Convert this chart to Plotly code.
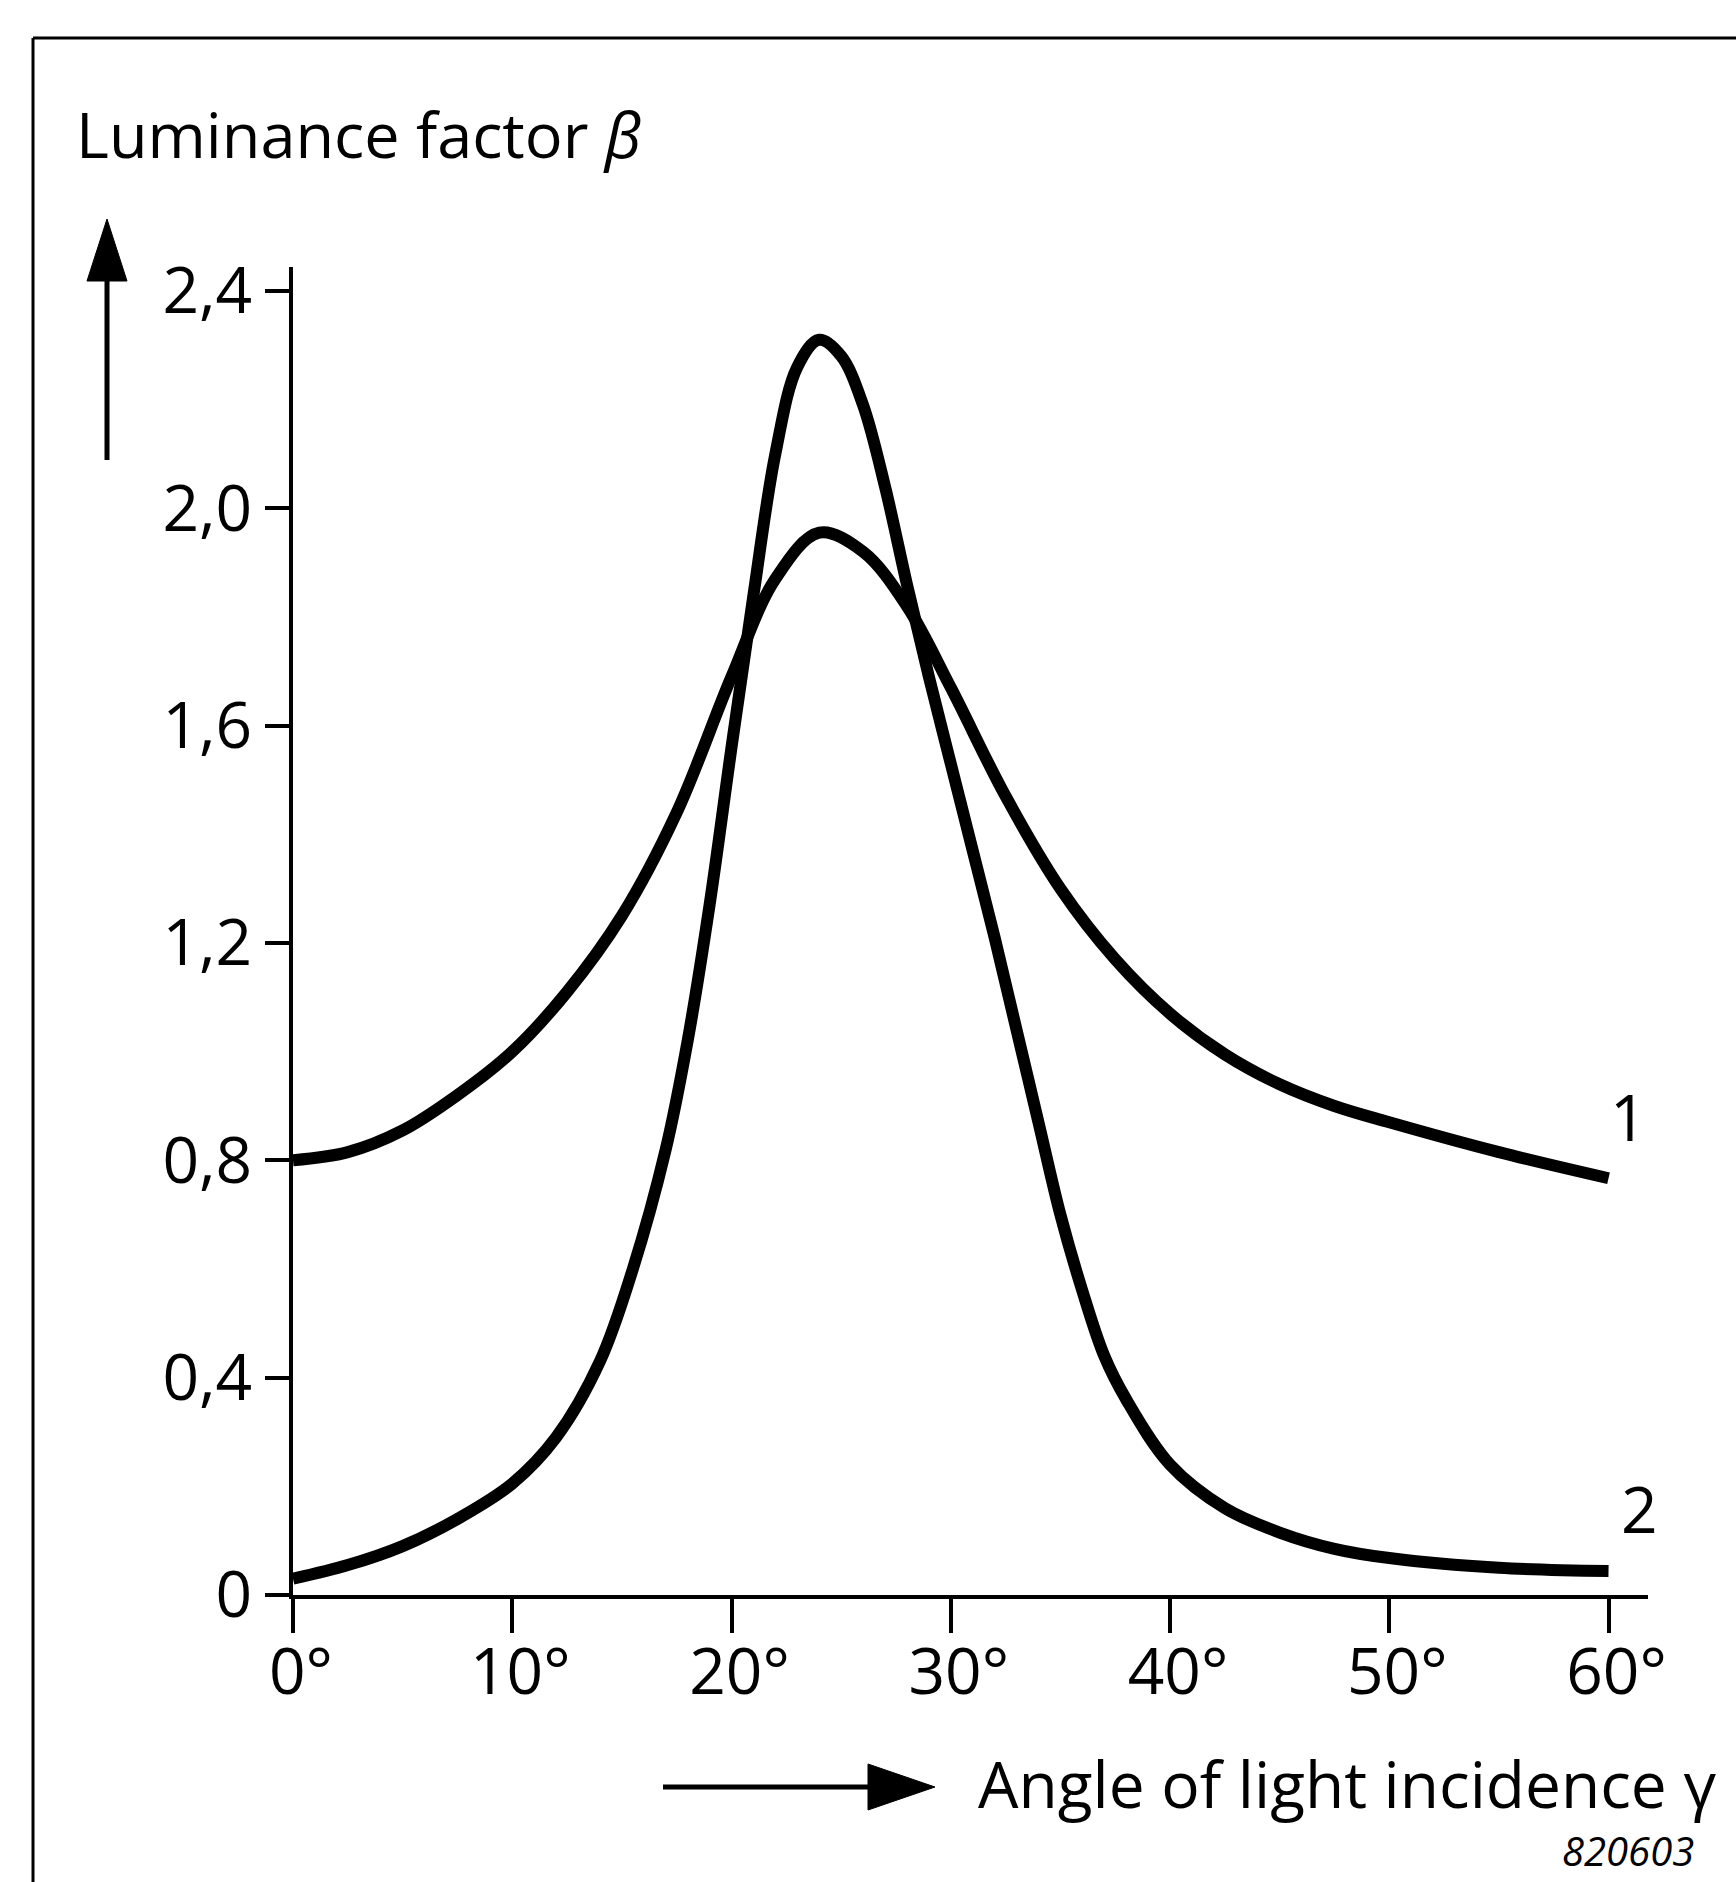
import plotly.graph_objects as go

# ---- data ----
angle_1 = [0, 2.5, 5, 7.5, 10, 12.5, 15, 17.5, 20, 22, 24, 26, 28, 30, 32.5, 35, 37.5, 40,
           42.5, 45, 47.5, 50, 55, 60]
beta_1 = [0.80, 0.815, 0.855, 0.92, 1.0, 1.11, 1.25, 1.44, 1.69, 1.87, 1.955, 1.92, 1.82,
          1.67, 1.47, 1.30, 1.17, 1.07, 0.995, 0.94, 0.90, 0.87, 0.815, 0.767]

angle_2 = [0, 2.5, 5, 7.5, 10, 12, 14, 15.5, 17, 18, 19, 20, 21, 22, 23, 24, 25, 26, 27, 28,
           29, 30, 31, 32, 33, 34, 35, 36, 37, 38, 40, 42.5, 45, 47.5, 50, 55, 60]
beta_2 = [0.03, 0.055, 0.09, 0.14, 0.205, 0.29, 0.43, 0.60, 0.82, 1.02, 1.27, 1.56, 1.84,
          2.10, 2.26, 2.31, 2.28, 2.19, 2.04, 1.86, 1.69, 1.53, 1.37, 1.21, 1.04, 0.87, 0.70,
          0.56, 0.44, 0.36, 0.24, 0.16, 0.115, 0.085, 0.068, 0.05, 0.044]

x_ticks = [0, 10, 20, 30, 40, 50, 60]
x_ticktext = ["0°", "10°", "20°", "30°", "40°", "50°", "60°"]
y_ticks = [0, 0.4, 0.8, 1.2, 1.6, 2.0, 2.4]
y_ticktext = ["0", "0,4", "0,8", "1,2", "1,6", "2,0", "2,4"]

curve_labels = ["1", "2"]
curve_label_pos = [(60.9, 0.88), (61.4, 0.16)]

FONT = "Open Sans"
FS = 64

# ---- layout geometry (pixels) ----
Wfig, Hfig = 1736, 1882
L, R, T, B = 293, 1648, 267, 1595
W, H = R - L, B - T


def px(x):
    return (x - L) / W


def py(y):
    return (B - y) / H


fig = go.Figure()
fig.add_trace(go.Scatter(x=angle_1, y=beta_1, mode="lines",
                         line=dict(color="black", width=12, shape="spline", smoothing=1.0),
                         showlegend=False, hoverinfo="skip"))
fig.add_trace(go.Scatter(x=angle_2, y=beta_2, mode="lines",
                         line=dict(color="black", width=12, shape="spline", smoothing=1.0),
                         showlegend=False, hoverinfo="skip"))

shapes = []
# frame (top and left edge)
shapes.append(dict(type="line", xref="paper", yref="paper", x0=px(33), y0=py(38), x1=px(1736), y1=py(38),
                   line=dict(color="black", width=3)))
shapes.append(dict(type="line", xref="paper", yref="paper", x0=px(33), y0=py(38), x1=px(33), y1=py(1882),
                   line=dict(color="black", width=3)))
# y arrow
shapes.append(dict(type="line", xref="paper", yref="paper", x0=px(107), y0=py(460), x1=px(107), y1=py(275),
                   line=dict(color="black", width=5)))
shapes.append(dict(type="path", xref="paper", yref="paper",
                   path=f"M {px(87)},{py(281)} L {px(127)},{py(281)} L {px(107)},{py(219)} Z",
                   fillcolor="black", line=dict(color="black", width=1)))
# x arrow
shapes.append(dict(type="line", xref="paper", yref="paper", x0=px(663), y0=py(1787), x1=px(872), y1=py(1787),
                   line=dict(color="black", width=5)))
shapes.append(dict(type="path", xref="paper", yref="paper",
                   path=f"M {px(868)},{py(1764)} L {px(868)},{py(1810)} L {px(935)},{py(1787)} Z",
                   fillcolor="black", line=dict(color="black", width=1)))

annotations = [
    dict(text="Luminance factor <i>β</i>", xref="paper", yref="paper", x=px(74), y=py(133),
         xanchor="left", yanchor="middle", showarrow=False, font=dict(family=FONT, size=63, color="black")),
    dict(text="Angle of light incidence γ", xref="paper", yref="paper", x=px(976), y=py(1783),
         xanchor="left", yanchor="middle", showarrow=False, font=dict(family=FONT, size=FS, color="black")),
    dict(text="<i>820603</i>", xref="paper", yref="paper", x=px(1560), y=py(1880),
         xanchor="left", yanchor="bottom", showarrow=False, font=dict(family=FONT, size=40, color="black")),
]
for lab, (xv, yv) in zip(curve_labels, curve_label_pos):
    annotations.append(dict(text=lab, x=xv, y=yv, xref="x", yref="y", xanchor="center", yanchor="middle",
                            showarrow=False, font=dict(family=FONT, size=FS, color="black")))

fig.update_layout(
    width=Wfig, height=Hfig, autosize=False,
    margin=dict(l=L, r=Wfig - R, t=T, b=Hfig - B, pad=0),
    paper_bgcolor="white", plot_bgcolor="white",
    font=dict(family=FONT, size=FS, color="black"),
    shapes=shapes, annotations=annotations, showlegend=False,
    xaxis=dict(range=[0, 61.8], tickvals=x_ticks, ticktext=x_ticktext, showgrid=False, zeroline=False,
               showline=True, linecolor="black", linewidth=4, ticks="outside", ticklen=34, tickwidth=4,
               tickcolor="black", tickfont=dict(family=FONT, size=FS, color="black"), ticklabelshift=8,
               ticklabelstandoff=-16),
    yaxis=dict(range=[0, 2.444], tickvals=y_ticks, ticktext=y_ticktext, showgrid=False, zeroline=False,
               showline=True, linecolor="black", linewidth=4, ticks="outside", ticklen=24, tickwidth=4,
               tickcolor="black", tickfont=dict(family=FONT, size=FS, color="black")),
)

fig.write_html("out.html", config={"displayModeBar": False},
               post_script="document.body.style.margin='0px';")
